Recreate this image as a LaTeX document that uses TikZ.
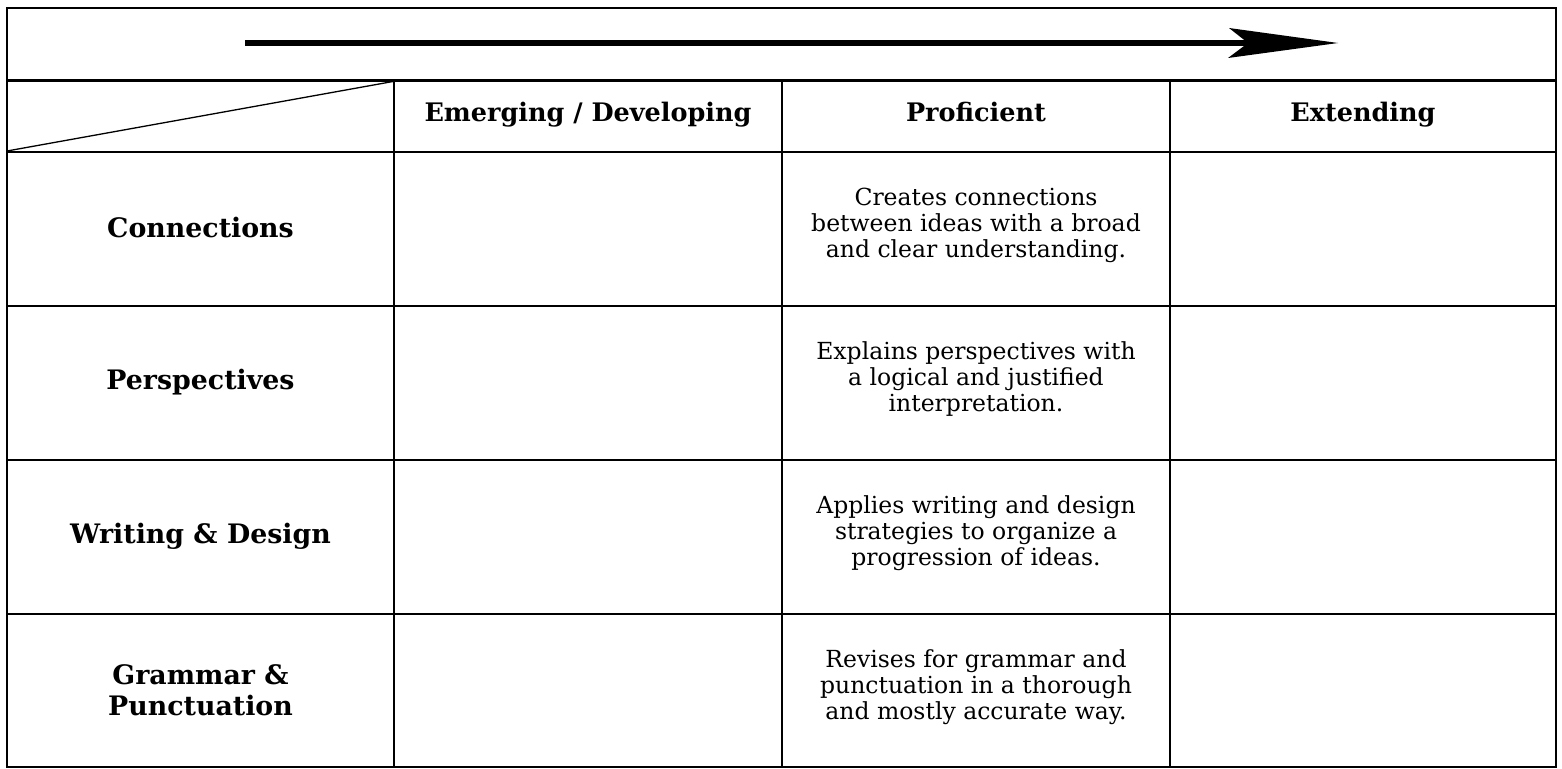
\documentclass[tikz,border=0pt]{standalone}
\usepackage{fontspec}
\setmainfont{DejaVu Serif}
\begin{document}
\begin{tikzpicture}[x=1pt,y=-1pt,
  grid/.style={line width=2.8pt, line cap=rect},
  diag/.style={line width=1.3pt},
  hdr/.style={font=\fontsize{25.5}{28}\selectfont\bfseries, anchor=base},
  rowlab/.style={font=\fontsize{26.8}{31}\selectfont\bfseries, align=center},
  desc/.style={font=\fontsize{23.5}{26}\selectfont, align=center}]
\useasboundingbox (0,0) rectangle (1562,768);
\fill[white] (0,0) rectangle (1562,768);
% grid
\draw[grid] (7,8) rectangle (1556,767);
\draw[grid] (7,80.5) -- (1556,80.5);
\draw[grid] (7,152) -- (1556,152);
\draw[grid] (7,306) -- (1556,306);
\draw[grid] (7,460) -- (1556,460);
\draw[grid] (7,614) -- (1556,614);
\draw[grid] (394,80.5) -- (394,767);
\draw[grid] (782,80.5) -- (782,767);
\draw[grid] (1170,80.5) -- (1170,767);
% diagonal in corner cell
\coordinate (dA) at (7,151);
\coordinate (dB) at (393,81.5);
\draw[diag] (dA) -- (dB);
% progression arrow
\coordinate (arS) at (245,43);
\coordinate (arN) at (1248,43);
\coordinate (arT) at (1338,43);
\coordinate (arU) at (1229,28);
\coordinate (arL) at (1228,58);
\draw[line width=6.5pt] (arS) -- (arN);
\fill (arT) -- (arU) -- (arN) -- (arL) -- cycle;
% headers
\node[hdr] (h1) at (588,121) {Emerging / Developing};
\node[hdr] (h2) at (976,121) {Proficient};
\node[hdr] (h3) at (1363,121) {Extending};
% row labels
\node[rowlab] (r1) at (200.5,228) {Connections};
\node[rowlab] (r2) at (200.5,382) {Perspectives};
\node[rowlab] (r3) at (200.5,536) {Writing \& Design};
\node[rowlab] (r4) at (200.5,690) {Grammar \&\\Punctuation};
% descriptions
\node[desc] (d1) at (976,225) {Creates connections\\between ideas with a broad\\and clear understanding.};
\node[desc] (d2) at (976,379) {Explains perspectives with\\a logical and justified\\interpretation.};
\node[desc] (d3) at (976,533) {Applies writing and design\\strategies to organize a\\progression of ideas.};
\node[desc] (d4) at (976,687) {Revises for grammar and\\punctuation in a thorough\\and mostly accurate way.};
\end{tikzpicture}
\end{document}
